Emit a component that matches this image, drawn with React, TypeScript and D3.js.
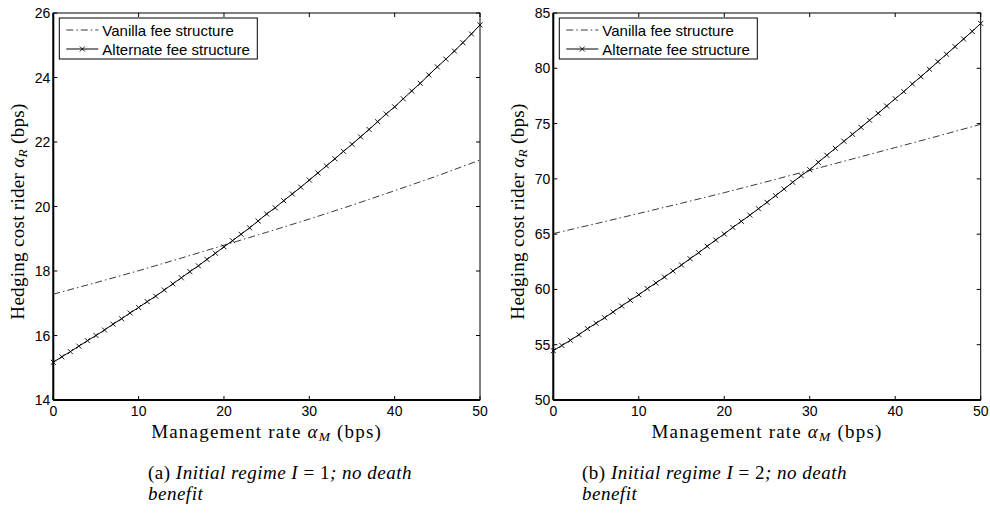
import React, { useEffect, useRef } from "react"
import * as d3 from "d3"

// management rate grid (bps), one marker per unit
const alphaM = d3.range(0, 51)
const vanillaX = [0, 5, 10, 15, 20, 25, 30, 35, 40, 45, 50]

// panel (a): initial regime I = 1
const vanillaA = [17.28, 17.64, 18.01, 18.4, 18.8, 19.2, 19.61, 20.04, 20.49, 20.95, 21.44]
const alternateA = [
  15.17, 15.34, 15.5, 15.67, 15.84, 16.0, 16.17, 16.35, 16.52, 16.7,
  16.87, 17.05, 17.22, 17.41, 17.6, 17.79, 17.98, 18.16, 18.36, 18.55,
  18.75, 18.94, 19.14, 19.34, 19.55, 19.77, 19.96, 20.18, 20.39, 20.6,
  20.82, 21.04, 21.26, 21.48, 21.71, 21.93, 22.16, 22.39, 22.63, 22.87,
  23.09, 23.34, 23.58, 23.82, 24.08, 24.33, 24.57, 24.82, 25.08, 25.35, 25.63,
]

// panel (b): initial regime I = 2
const vanillaB = [65.05, 65.95, 66.87, 67.8, 68.75, 69.75, 70.77, 71.8, 72.83, 73.87, 74.93]
const alternateB = [
  54.46, 54.93, 55.4, 55.91, 56.45, 56.94, 57.44, 57.96, 58.5, 59.02,
  59.52, 60.07, 60.58, 61.12, 61.67, 62.21, 62.78, 63.32, 63.9, 64.47,
  65.01, 65.61, 66.16, 66.72, 67.3, 67.88, 68.48, 69.08, 69.69, 70.29,
  70.83, 71.5, 72.13, 72.76, 73.4, 74.03, 74.66, 75.3, 75.93, 76.59,
  77.25, 77.89, 78.59, 79.24, 79.91, 80.6, 81.27, 81.96, 82.65, 83.34, 84.06,
]

const xTicks = [0, 10, 20, 30, 40, 50]
const yTicksA = [14, 16, 18, 20, 22, 24, 26]
const yTicksB = [50, 55, 60, 65, 70, 75, 80, 85]
const legendLabels = ["Vanilla fee structure", "Alternate fee structure"]

const SANS = "'Liberation Sans', Arial, sans-serif"
const SERIF = "'Liberation Serif', 'Times New Roman', serif"
const crossPath = "M-2.5,-2.5L2.5,2.5M-2.5,2.5L2.5,-2.5"

function drawPanel(svg, opts) {
  const { left, right, yDomain, yTicks, vanilla, alternate, tag, regime, capX } = opts
  const top = 13, bottom = 400
  const x = d3.scaleLinear().domain([0, 50]).range([left, right])
  const y = d3.scaleLinear().domain(yDomain).range([bottom, top])
  const g = svg.append("g")

  // ticks on all four sides, pointing in
  xTicks.forEach(t => {
    g.append("line").attr("x1", x(t)).attr("x2", x(t)).attr("y1", bottom).attr("y2", bottom - 4).attr("stroke", "#000")
    g.append("line").attr("x1", x(t)).attr("x2", x(t)).attr("y1", top).attr("y2", top + 4).attr("stroke", "#000")
    g.append("text").attr("x", x(t)).attr("y", bottom + 16).attr("text-anchor", "middle")
      .style("font-family", SANS).style("font-size", "14px").text(t)
  })
  yTicks.forEach(t => {
    g.append("line").attr("x1", left).attr("x2", left + 4).attr("y1", y(t)).attr("y2", y(t)).attr("stroke", "#000")
    g.append("line").attr("x1", right).attr("x2", right - 4).attr("y1", y(t)).attr("y2", y(t)).attr("stroke", "#000")
    g.append("text").attr("x", left - 3).attr("y", y(t) + 5).attr("text-anchor", "end")
      .style("font-family", SANS).style("font-size", "14px").text(t)
  })

  g.append("rect").attr("x", left).attr("y", top).attr("width", right - left).attr("height", bottom - top)
    .attr("fill", "none").attr("stroke", "#000").attr("stroke-width", 1)
  g.append("line").attr("x1", left).attr("x2", left).attr("y1", top).attr("y2", bottom).attr("stroke", "#000").attr("stroke-width", 2)
  g.append("line").attr("x1", left).attr("x2", right).attr("y1", bottom).attr("y2", bottom).attr("stroke", "#000").attr("stroke-width", 2)

  const line = d3.line().x(d => x(d[0])).y(d => y(d[1]))
  g.append("path").datum(vanillaX.map((v, i) => [v, vanilla[i]])).attr("d", line)
    .attr("fill", "none").attr("stroke", "#222").attr("stroke-width", 0.9).attr("stroke-dasharray", "7,3,1.5,3")
  const altPts = alphaM.map((v, i) => [v, alternate[i]])
  g.append("path").datum(altPts).attr("d", line).attr("fill", "none").attr("stroke", "#000").attr("stroke-width", 1)
  g.selectAll(".mk").data(altPts).enter().append("path")
    .attr("transform", d => "translate(" + x(d[0]) + "," + y(d[1]) + ")")
    .attr("d", crossPath).attr("stroke", "#000").attr("stroke-width", 0.9)

  // legend
  const lg = g.append("g").attr("transform", "translate(" + (left + 6) + ",18)")
  lg.append("rect").attr("width", 198).attr("height", 41).attr("fill", "#fff").attr("stroke", "#000").attr("stroke-width", 1)
  lg.append("line").attr("x1", 7).attr("x2", 39).attr("y1", 12).attr("y2", 12)
    .attr("stroke", "#222").attr("stroke-width", 0.9).attr("stroke-dasharray", "7,3,1.5,3")
  lg.append("line").attr("x1", 7).attr("x2", 39).attr("y1", 31).attr("y2", 31).attr("stroke", "#000")
  lg.append("path").attr("transform", "translate(23,31)").attr("d", crossPath).attr("stroke", "#000").attr("stroke-width", 0.9)
  legendLabels.forEach((l, i) => {
    lg.append("text").attr("x", 43).attr("y", 17.5 + i * 19).style("font-family", SANS).style("font-size", "15px").text(l)
  })

  // axis labels
  const cx = (left + right) / 2
  const xl = g.append("text").attr("x", cx).attr("y", 438).attr("text-anchor", "middle")
    .style("font-family", SERIF).style("font-size", "19px").style("letter-spacing", "1.2px")
  xl.append("tspan").text("Management rate ")
  xl.append("tspan").style("font-style", "italic").text("α")
  xl.append("tspan").style("font-style", "italic").style("font-size", "13.5px").attr("dy", 3).text("M")
  xl.append("tspan").attr("dy", -3).text(" (bps)")

  const yl = g.append("text").attr("transform", "translate(" + (left - 29) + "," + ((top + bottom) / 2 + 5) + ") rotate(-90)")
    .attr("text-anchor", "middle").style("font-family", SERIF).style("font-size", "19px").style("letter-spacing", "0.3px")
  yl.append("tspan").text("Hedging cost rider ")
  yl.append("tspan").style("font-style", "italic").text("α")
  yl.append("tspan").style("font-style", "italic").style("font-size", "13.5px").attr("dy", 3).text("R")
  yl.append("tspan").attr("dy", -3).text(" (bps)")

  // caption
  const c1 = g.append("text").attr("x", capX).attr("y", 479).style("font-family", SERIF).style("font-size", "19px")
    .style("letter-spacing", "0.5px")
  c1.append("tspan").text("(" + tag + ")  ")
  c1.append("tspan").style("font-style", "italic").text("Initial regime I ")
  c1.append("tspan").text("= " + regime)
  c1.append("tspan").style("font-style", "italic").text("; no death")
  g.append("text").attr("x", capX).attr("y", 500).style("font-family", SERIF).style("font-size", "19px")
    .style("letter-spacing", "0.5px").style("font-style", "italic").text("benefit")
}

export default function App() {
  const ref = useRef(null)
  useEffect(() => {
    const svg = d3.select(ref.current)
    svg.selectAll("*").remove()
    drawPanel(svg, { left: 53.3, right: 480, yDomain: [14, 26], yTicks: yTicksA, vanilla: vanillaA, alternate: alternateA, tag: "a", regime: 1, capX: 148 })
    drawPanel(svg, { left: 553.3, right: 980.7, yDomain: [50, 85], yTicks: yTicksB, vanilla: vanillaB, alternate: alternateB, tag: "b", regime: 2, capX: 582 })
  }, [])
  return (
    <svg ref={ref} width={990} height={513} style={{ position: "absolute", left: 0, top: 0, background: "#fff" }} />
  )
}
